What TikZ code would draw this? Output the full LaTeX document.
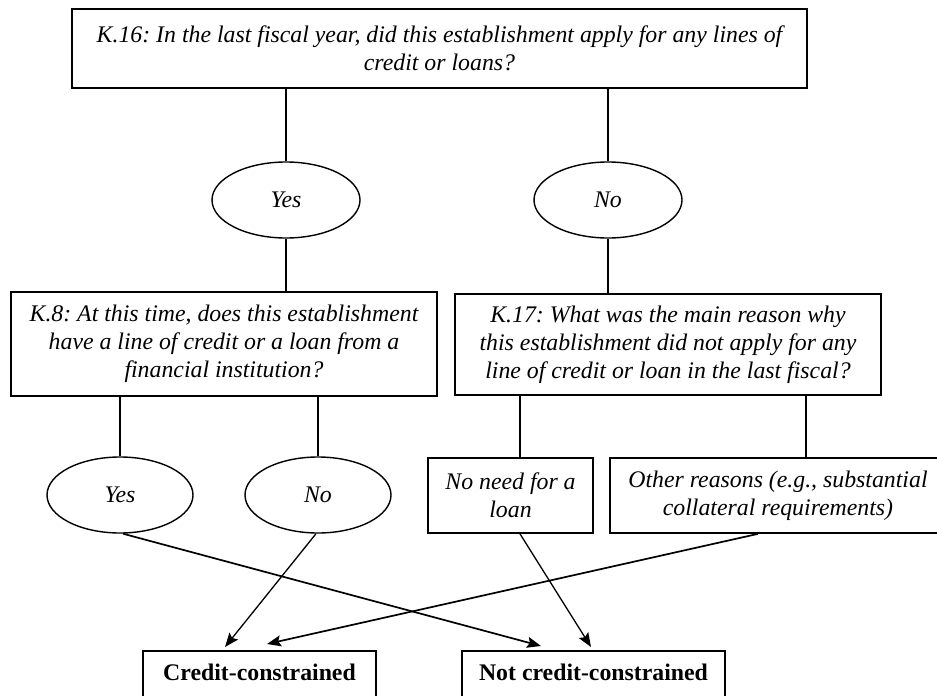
\documentclass[tikz,border=0pt]{standalone}
\usepackage{fontspec}
\setmainfont{Liberation Serif}
\frenchspacing
\usetikzlibrary{shapes.geometric,arrows.meta}
\begin{document}
\begin{tikzpicture}[x=1pt,y=-1pt,
  txt/.style={font=\fontsize{23.8}{27.8}\selectfont\itshape},
  box/.style={txt,draw,line width=1.7pt,rectangle,align=center,inner sep=0pt},
  oval/.style={txt,draw,line width=1.4pt,ellipse,inner sep=0pt,minimum width=148pt,minimum height=76pt},
  outcome/.style={draw,line width=1.7pt,rectangle,font=\fontsize{23.8}{27.8}\selectfont\bfseries,inner xsep=0pt,inner ysep=8pt,text height=22pt,text depth=30pt,anchor=north},
  conn/.style={line width=1.3pt},
  arr/.style={line width=1.3pt,-{Stealth[length=14pt,width=11pt,inset=2.5pt]}}]
\useasboundingbox (0,0) rectangle (937,696);
\clip (0,0) rectangle (937,696);
\node[box,minimum width=735pt,minimum height=79pt] (q16) at (439.5,48.5)
  {K.16: In the last fiscal year, did this establishment apply for any lines of\\credit or loans?};
\node[oval] (yes1) at (286,200) {Yes};
\node[oval] (no1) at (608,200) {No};
\node[box,minimum width=426pt,minimum height=104pt] (q8) at (224,344)
  {K.8: At this time, does this establishment\\have a line of credit or a loan from a\\financial institution?};
\node[box,minimum width=426pt,minimum height=101pt] (q17) at (668,344.5)
  {K.17: What was the main reason why\\this establishment did not apply for any\\line of credit or loan in the last fiscal?};
\node[oval,minimum width=146pt] (yes2) at (120,495) {Yes};
\node[oval,minimum width=146pt] (no2) at (318,495) {No};
\node[box,minimum width=165pt,minimum height=75pt] (noneed) at (510.5,495.5) {No need for a\\loan};
\node[box,minimum width=336pt,minimum height=75pt] (other) at (778,495.5) {Other reasons (e.g., substantial\\collateral requirements)};
\node[outcome,minimum width=233pt] (cc) at (259.5,650) {Credit-constrained};
\node[outcome,minimum width=263pt] (ncc) at (593.5,650) {Not credit-constrained};

\draw[conn] (q16.south -| yes1.north) -- (yes1.north);
\draw[conn] (q16.south -| no1.north) -- (no1.north);
\draw[conn] (yes1.south) -- (yes1.south |- q8.north);
\draw[conn] (no1.south) -- (no1.south |- q17.north);
\draw[conn] (q8.south -| yes2.north) -- (yes2.north);
\draw[conn] (q8.south -| no2.north) -- (no2.north);
\draw[conn] ([xshift=9.5pt]noneed.north) -- ([xshift=9.5pt]noneed.north |- q17.south);
\draw[conn] ([xshift=28pt]other.north) -- ([xshift=28pt]other.north |- q17.south);

\draw[arr,line width=1.7pt] ([xshift=3pt]yes2.south) -- ([xshift=-52.5pt,yshift=4pt]ncc.north);
\draw[arr] ([xshift=-2pt]no2.south) -- ([xshift=-34.5pt,yshift=3pt]cc.north);
\draw[arr] ([xshift=9.5pt]noneed.south) -- ([xshift=-2.5pt,yshift=3pt]ncc.north);
\draw[arr,line width=1.7pt] ([xshift=-20pt]other.south) -- ([xshift=7.5pt,yshift=6pt]cc.north);
\end{tikzpicture}
\end{document}
